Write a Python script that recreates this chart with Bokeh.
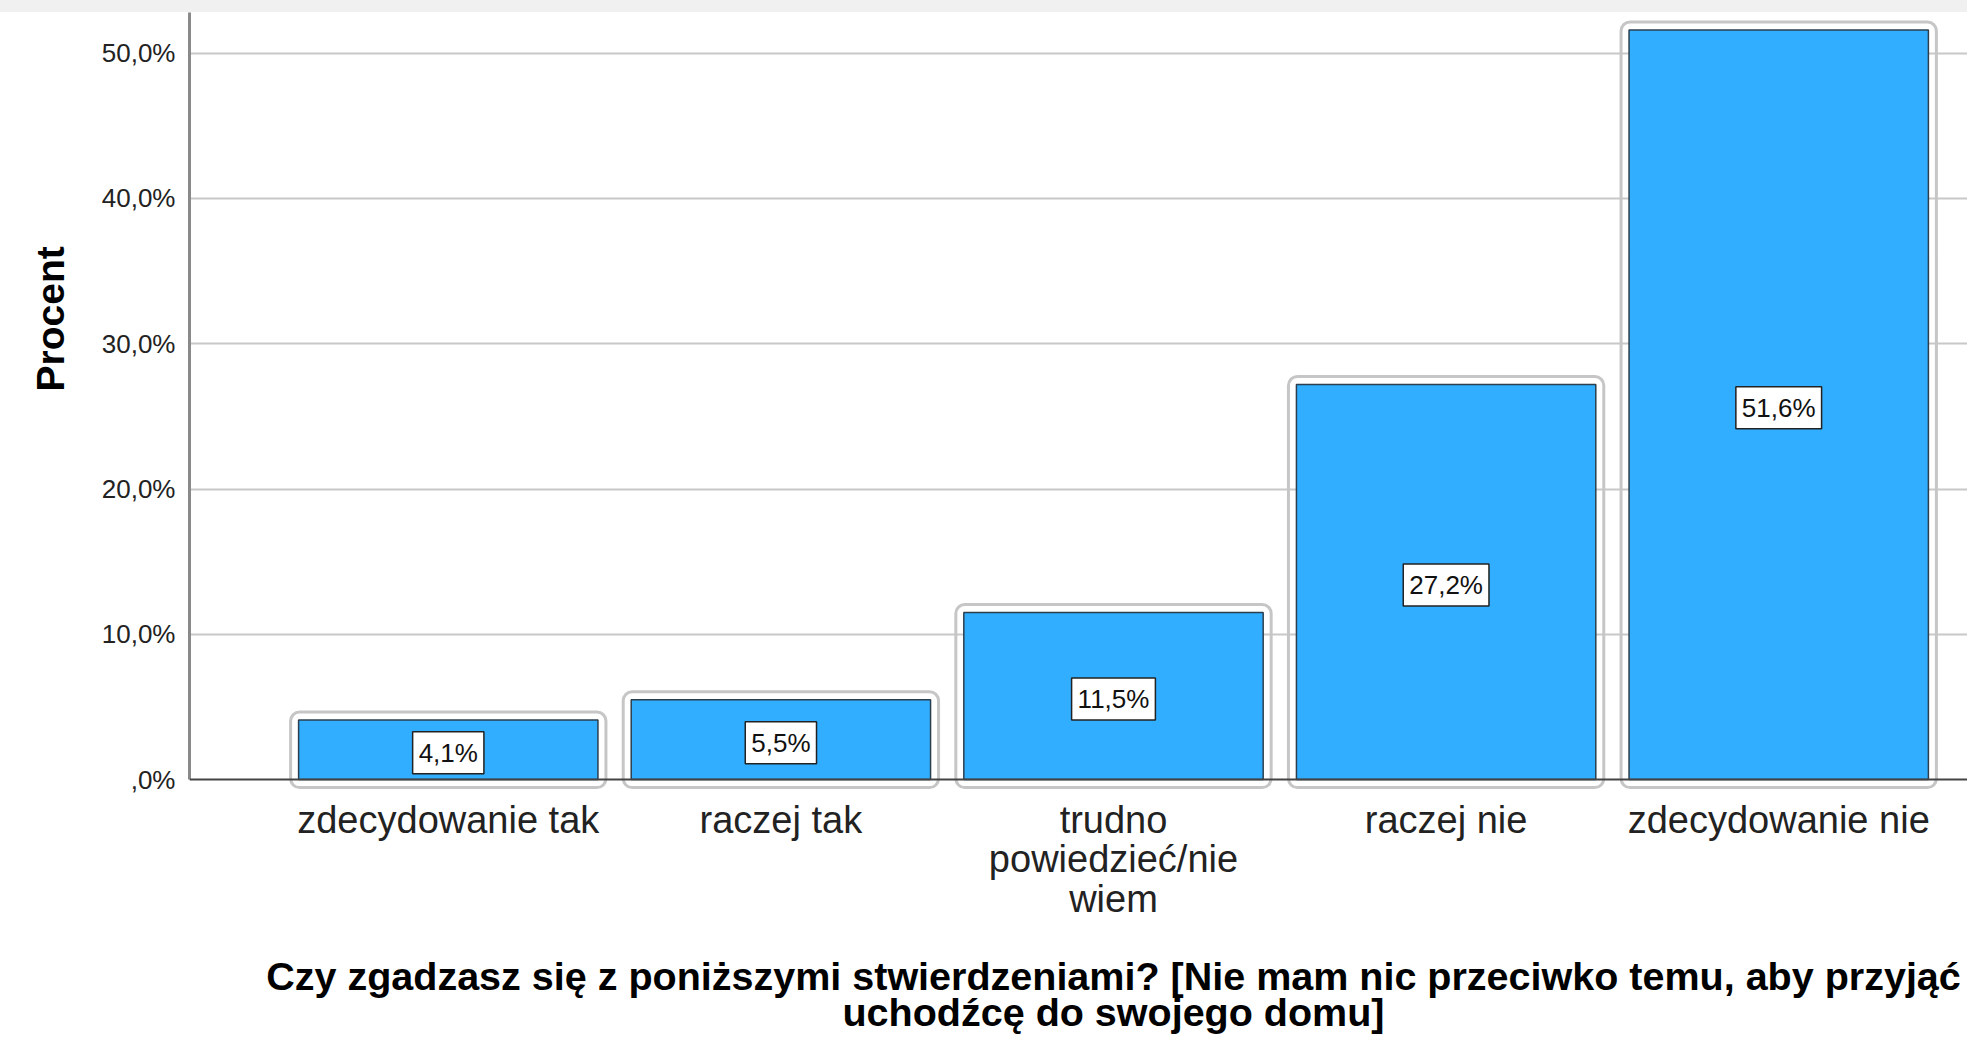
from bokeh.plotting import figure
from bokeh.models import FixedTicker, Range1d, Span, Label, ColumnDataSource, Title, Div
from bokeh.core.properties import value
from bokeh.layouts import column
from bokeh.embed import file_html
from bokeh.resources import INLINE

# ---- data ----
categories = ["zdecydowanie tak", "raczej tak", "trudno\npowiedzieć/nie\nwiem",
              "raczej nie", "zdecydowanie nie"]
percent = [4.1, 5.5, 11.5, 27.2, 51.6]
y_ticks = [0, 10, 20, 30, 40, 50]
y_tick_labels = [",0%", "10,0%", "20,0%", "30,0%", "40,0%", "50,0%"]
x_title_lines = ["Czy zgadzasz się z poniższymi stwierdzeniami? [Nie mam nic przeciwko temu, aby przyjąć",
                 "uchodźcę do swojego domu]"]
y_title = "Procent"

FONT = "Liberation Sans"
BAND = 12            # grey strip at the top of the screenshot
TITLE_H = 88         # strip holding the x title
W = 1967
H = 1038 - BAND - TITLE_H
BORDER_L, BORDER_T = 188, 0
BORDER_B = H - (790 - BAND)
X0 = -0.778
X1 = X0 + (W - BORDER_L) / 332.8
Y0, Y1 = -0.75, 52.8

px_per_x = (W - BORDER_L) / (X1 - X0)
px_per_y = (H - BORDER_T - BORDER_B) / (Y1 - Y0)

xs = list(range(len(categories)))
bar_w = 0.9
pad_px = 8
outer_w = bar_w + 2 * pad_px / px_per_x
pad_y = pad_px / px_per_y

src = ColumnDataSource(dict(
    x=xs, top=percent,
    otop=[v + pad_y for v in percent],
    obot=[-pad_y] * len(percent),
))

p = figure(width=W, height=H, output_backend="svg", toolbar_location=None,
           x_range=Range1d(X0, X1), y_range=Range1d(Y0, Y1),
           min_border_left=BORDER_L, min_border_right=0,
           min_border_top=BORDER_T, min_border_bottom=BORDER_B)
p.outline_line_color = None
p.background_fill_color = "white"
p.border_fill_color = "white"

# grid
p.xgrid.grid_line_color = None
p.ygrid.ticker = FixedTicker(ticks=y_ticks[1:])
p.ygrid.grid_line_color = "#c8c8c8"
p.ygrid.grid_line_width = 2

# outer rounded frames
p.vbar(x="x", top="otop", bottom="obot", width=outer_w, source=src,
       fill_color=None, line_color="#c6c6c6", line_width=3, border_radius=9)
# bars
p.vbar(x="x", top="top", bottom=0, width=bar_w, source=src,
       fill_color="#31aeff", line_color="#2b3f4f", line_width=1.5)

# x axis baseline
p.add_layout(Span(location=0, dimension="width", line_color="#444444", line_width=2))

# y axis
ya = p.yaxis[0]
ya.ticker = FixedTicker(ticks=y_ticks)
ya.major_label_overrides = {t: l for t, l in zip(y_ticks, y_tick_labels)}
ya.bounds = (0, Y1)
ya.axis_line_color = "#8a8a8a"
ya.axis_line_width = 3
ya.major_tick_line_color = None
ya.minor_tick_line_color = None
ya.major_tick_out = 0
ya.major_label_standoff = 14
ya.major_label_text_font = FONT
ya.major_label_text_font_size = "26px"
ya.major_label_text_color = "#222222"

# y title as a left-side title (positioned along the axis)
p.add_layout(Title(text=y_title, align="left", offset=399, standoff=53,
                   text_font=FONT, text_font_style="bold", text_font_size="39px",
                   text_color="black"), "left")

# x axis
xa = p.xaxis[0]
xa.ticker = FixedTicker(ticks=xs)
xa.major_label_overrides = {i: c for i, c in enumerate(categories)}
xa.axis_line_color = None
xa.major_tick_line_color = None
xa.minor_tick_line_color = None
xa.major_tick_out = 0
xa.major_label_standoff = 8
xa.major_label_text_font = FONT
xa.major_label_text_font_size = "38px"
xa.major_label_text_color = "#222222"
xa.major_label_text_line_height = 0.95

# value labels
for x, v in zip(xs, percent):
    txt = f"{v:.1f}%".replace(".", ",")
    p.add_layout(Label(x=x, y=v / 2, text=txt, text_align="center",
                       text_baseline="middle", y_offset=-3,
                       text_font=FONT, text_font_size="26px", text_color="#111111",
                       background_fill_color="white", border_line_color="#222222",
                       border_line_width=1.5, padding=6))

# x title strip, sharing the x scale so the title centres on the plot area
pt = figure(width=W, height=TITLE_H, output_backend="svg", toolbar_location=None,
            x_range=p.x_range, y_range=Range1d(0, TITLE_H),
            x_axis_location=None, y_axis_location=None,
            min_border_left=BORDER_L, min_border_right=0,
            min_border_top=0, min_border_bottom=0)
pt.outline_line_color = None
pt.grid.visible = False
mid = (xs[0] + xs[-1]) / 2
pt.text(x=[mid, mid], y=[TITLE_H - 25, TITLE_H - 61], text=x_title_lines,
        text_align="center", text_baseline="middle",
        text_font=value(FONT), text_font_style="bold", text_font_size="39.5px",
        text_color="black")

band = Div(text="", width=W, height=BAND, margin=0,
           styles={"background-color": "#f0f0f0"})
layout = column(band, p, pt, spacing=0)

open("out.html", "w").write(file_html(layout, INLINE))
